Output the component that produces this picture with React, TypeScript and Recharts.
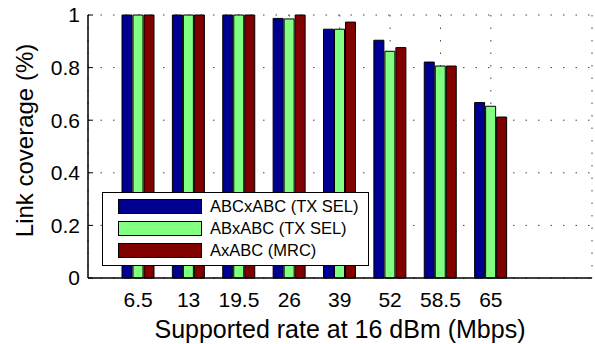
import { BarChart, Bar, XAxis, YAxis, CartesianGrid, Legend } from "recharts";

// coverage per supported rate (fraction of links)
const rates = ["6.5", "13", "19.5", "26", "39", "52", "58.5", "65"];
const abcxabcTxSel = [1, 1, 1, 0.987, 0.946, 0.904, 0.821, 0.667];
const abxabcTxSel = [1, 1, 1, 0.985, 0.946, 0.862, 0.806, 0.653];
const axabcMrc = [1, 1, 1, 1, 0.973, 0.876, 0.806, 0.612];
const seriesNames = ["ABCxABC (TX SEL)", "ABxABC (TX SEL)", "AxABC (MRC)"];
const yTicks = [0, 0.2, 0.4, 0.6, 0.8, 1];

const COLORS = ["#000090", "#80ff80", "#800000"];
const FONT = '"Liberation Sans", Arial, Helvetica, sans-serif';
const KEYS = ["abc", "ab", "a"];

const data = rates.map((rate, i) => ({
  rate,
  abc: abcxabcTxSel[i],
  ab: abxabcTxSel[i],
  a: axabcMrc[i],
}));

const noTick = () => <g />;
const axisLine = { stroke: "#000", strokeWidth: 1.5 };

function YLabel({ viewBox }: any) {
  const cx = 33;
  const cy = viewBox.y + viewBox.height / 2 - 6;
  return (
    <text
      x={cx}
      y={cy}
      transform={`rotate(-90, ${cx}, ${cy})`}
      textAnchor="middle"
      fill="#000"
      fontSize={24}
      fontFamily={FONT}
    >
      Link coverage (%)
    </text>
  );
}

function BoxLegend() {
  return (
    <div
      style={{
        boxSizing: "border-box",
        width: 267,
        height: 74,
        border: "1.5px solid #000",
        background: "#fff",
        padding: "2.5px 0",
        fontFamily: FONT,
        fontSize: 16.5,
        color: "#000",
      }}
    >
      {seriesNames.map((name, i) => (
        <div key={name} style={{ display: "flex", alignItems: "center", height: 22 }}>
          <span
            style={{
              display: "inline-block",
              boxSizing: "border-box",
              width: 84,
              height: 15,
              marginLeft: 15,
              marginRight: 8,
              background: COLORS[i],
              border: "1px solid #000",
            }}
          />
          <span>{name}</span>
        </div>
      ))}
    </div>
  );
}

export default function App() {
  return (
    <div style={{ position: "absolute", left: 0, top: 0, background: "#fff" }}>
      <BarChart
        width={595}
        height={344}
        data={data}
        margin={{ top: 15, right: 3, bottom: 0, left: 0 }}
        barSize={10}
        barGap={1}
      >
        <CartesianGrid stroke="#444" strokeDasharray="1.5 11" />
        <XAxis
          dataKey="rate"
          height={66}
          interval={0}
          padding={{ left: 25, right: 76 }}
          axisLine={axisLine}
          tickLine={false}
          tickSize={0}
          tickMargin={14}
          tick={{ fill: "#000", fontSize: 21, fontFamily: FONT }}
          label={{
            value: "Supported rate at 16 dBm (Mbps)",
            position: "insideBottom",
            offset: 6,
            fill: "#000",
            fontSize: 25,
            fontFamily: FONT,
          }}
        />
        <XAxis
          xAxisId="top"
          orientation="top"
          dataKey="rate"
          height={0}
          mirror
          interval={0}
          padding={{ left: 25, right: 76 }}
          axisLine={axisLine}
          tickLine={{ stroke: "#000" }}
          tickSize={5}
          tick={noTick}
        />
        <YAxis
          width={88}
          domain={[0, 1]}
          ticks={yTicks}
          interval={0}
          axisLine={axisLine}
          tickLine={{ stroke: "#000" }}
          tickSize={-5}
          tickMargin={13}
          tick={{ fill: "#000", fontSize: 21, fontFamily: FONT }}
          label={{ content: YLabel }}
        />
        <YAxis
          yAxisId="right"
          orientation="right"
          width={0}
          mirror
          domain={[0, 1]}
          ticks={yTicks}
          interval={0}
          axisLine={axisLine}
          tickLine={{ stroke: "#000" }}
          tickSize={5}
          tick={noTick}
        />
        <Legend
          layout="horizontal"
          verticalAlign="middle"
          align="center"
          wrapperStyle={{ left: 102, top: 192, width: 267, height: 74 }}
          content={() => <BoxLegend />}
        />
        {KEYS.map((k, i) => (
          <Bar
            key={k}
            dataKey={k}
            name={seriesNames[i]}
            fill={COLORS[i]}
            stroke="#000"
            strokeWidth={1}
            isAnimationActive={false}
          />
        ))}
      </BarChart>
    </div>
  );
}
